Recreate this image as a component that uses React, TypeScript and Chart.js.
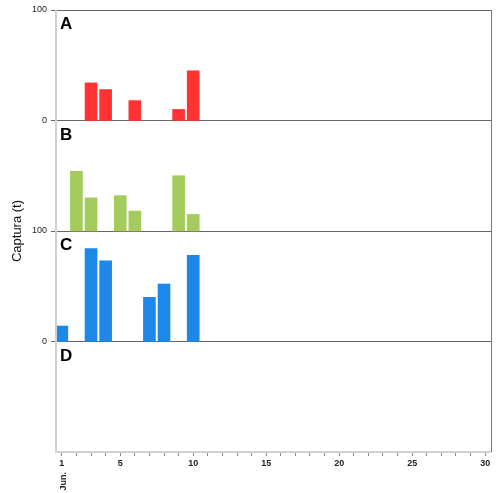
import { useEffect, useRef } from "react";
import { Chart, registerables } from "chart.js";

Chart.register(...registerables);

// panel values (t) per day of June
const panelA = [{ d: 3, v: 34 }, { d: 4, v: 28 }, { d: 6, v: 18 }, { d: 9, v: 10 }, { d: 10, v: 45 }];
const panelB = [{ d: 2, v: 54 }, { d: 3, v: 30 }, { d: 5, v: 32 }, { d: 6, v: 18 }, { d: 9, v: 50 }, { d: 10, v: 15 }];
const panelC = [{ d: 1, v: 14 }, { d: 3, v: 84 }, { d: 4, v: 73 }, { d: 7, v: 40 }, { d: 8, v: 52 }, { d: 10, v: 78 }];
const panelLetters = ["A", "B", "C", "D"];
const yTickLabels: Record<number, string> = { 400: "100", 300: "0", 200: "100", 100: "0" };

const float = (pts: { d: number; v: number }[], base: number) =>
  pts.map((p) => ({ x: p.d, y: [base, base + p.v] }));

const frame = {
  id: "frame",
  afterDraw(chart: Chart) {
    const { ctx, chartArea: a } = chart;
    ctx.save();
    ctx.strokeStyle = "#d0d0d0";
    ctx.lineWidth = 2;
    ctx.beginPath();
    ctx.moveTo(a.left, a.top);
    ctx.lineTo(a.left, a.bottom);
    ctx.lineTo(a.right, a.bottom);
    ctx.stroke();
    ctx.strokeStyle = "#777";
    ctx.lineWidth = 1;
    ctx.beginPath();
    ctx.moveTo(a.right + 0.5, a.top);
    ctx.lineTo(a.right + 0.5, a.bottom);
    ctx.stroke();
    const x1 = chart.scales.x.getPixelForValue(1);
    ctx.translate(x1 + 4, a.bottom + 20);
    ctx.rotate(-Math.PI / 2);
    ctx.fillStyle = "#222";
    ctx.font = "bold 9px Arial, 'Liberation Sans'";
    ctx.textAlign = "right";
    ctx.fillText("Jun.", 0, 0);
    ctx.restore();
  },
};

export default function App() {
  const ref = useRef<HTMLCanvasElement>(null);
  useEffect(() => {
    document.body.style.margin = "0";
    if (!ref.current) return;
    const chart = new Chart(ref.current, {
      type: "bar",
      data: {
        datasets: [
          { data: float(panelA, 300), backgroundColor: "#ff3333" },
          { data: float(panelB, 200), backgroundColor: "#a3cc5c" },
          { data: float(panelC, 100), backgroundColor: "#1e88e8" },
        ] as any,
      },
      options: {
        animation: false,
        responsive: false,
        layout: { padding: { top: 10, right: 12 } },
        datasets: { bar: { barThickness: 12, grouped: false } },
        plugins: { legend: { display: false }, tooltip: { enabled: false } },
        scales: {
          x: {
            type: "linear",
            offset: false,
            min: 0.6,
            max: 30.4,
            afterBuildTicks: (s) => {
              s.ticks = Array.from({ length: 30 }, (_, i) => ({ value: i + 1 }));
            },
            afterFit: (s) => {
              s.height = 41;
            },
            grid: { display: true, drawOnChartArea: false, offset: false, tickLength: 4, color: "#888" },
            border: { display: false },
            ticks: {
              autoSkip: false,
              maxRotation: 0,
              padding: 2,
              color: "#222",
              font: { family: "Arial, 'Liberation Sans'", size: 9, weight: "bold" },
              callback: (v) => (v === 1 || Number(v) % 5 === 0 ? String(v) : ""),
            },
          },
          y: {
            min: 0,
            max: 400,
            afterBuildTicks: (s) => {
              s.ticks = [100, 200, 300, 400].map((value) => ({ value }));
            },
            afterFit: (s) => {
              s.width = 56;
            },
            grid: { color: "#666", tickLength: 5 },
            border: { display: false },
            title: {
              display: true,
              text: "Captura (t)",
              color: "#111",
              padding: { top: 10, bottom: 0 },
              font: { family: "Arial, 'Liberation Sans'", size: 13 },
            },
            ticks: {
              color: "#222",
              padding: 4,
              font: { family: "Arial, 'Liberation Sans'", size: 9 },
              callback: (v) => yTickLabels[Number(v)] ?? "",
            },
          },
        },
      },
      plugins: [frame],
    });
    return () => chart.destroy();
  }, []);

  return (
    <div style={{ position: "relative", width: 503, height: 493 }}>
      <canvas ref={ref} width={503} height={493} />
      {panelLetters.map((l, i) => (
        <div
          key={l}
          style={{
            position: "absolute",
            left: 60,
            top: 14 + i * 110.5,
            font: "bold 17px Arial, 'Liberation Sans'",
            color: "#000",
          }}
        >
          {l}
        </div>
      ))}
    </div>
  );
}
